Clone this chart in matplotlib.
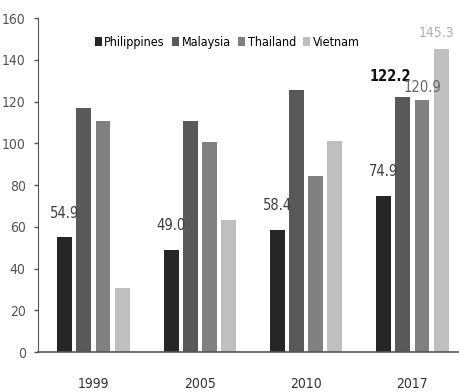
import matplotlib.pyplot as plt
import numpy as np

years = ["1999", "2005", "2010", "2017"]
countries = ["Philippines", "Malaysia", "Thailand", "Vietnam"]
philippines = [54.9, 49.0, 58.4, 74.9]
malaysia = [116.8, 110.6, 125.3, 122.2]
thailand = [110.6, 100.5, 84.3, 120.9]
vietnam = [30.7, 63.2, 101.3, 145.3]
colors = ["#262626", "#595959", "#808080", "#bfbfbf"]

plt.rcParams['font.family'] = ['DejaVu Sans']
plt.rcParams['font.stretch'] = 'condensed'

def main():
    fig = plt.figure(figsize=(4.6, 3.92), dpi=100)
    ax = fig.add_axes([0.083, 0.102, 0.913, 0.852])
    x = np.arange(len(years))
    step = 0.18
    width = 0.14
    series = [philippines, malaysia, thailand, vietnam]
    bars = []
    for i, (name, vals) in enumerate(zip(countries, series)):
        b = ax.bar(x + (i - 1.5) * step, vals, width, color=colors[i], label=name)
        bars.append(b)

    # value labels: all Philippines bars, plus the 2017 group
    for rect, v in zip(bars[0], philippines):
        ax.text(rect.get_x() + rect.get_width() / 2, v + 8, "%.1f" % v,
                ha="center", va="bottom", fontsize=10.5, color="#404040")
    r = bars[1][3]
    ax.text(r.get_x() + r.get_width() / 2 - 0.12, malaysia[3] + 6, "%.1f" % malaysia[3],
            ha="center", va="bottom", fontsize=10.5, color="#111111", fontweight="bold")
    r = bars[2][3]
    ax.text(r.get_x() + r.get_width() / 2, thailand[3] + 2, "%.1f" % thailand[3],
            ha="center", va="bottom", fontsize=10.5, color="#666666")
    r = bars[3][3]
    ax.text(r.get_x() + r.get_width() / 2 - 0.04, vietnam[3] + 4, "%.1f" % vietnam[3],
            ha="center", va="bottom", fontsize=10, color="#b0b0b0")

    ax.set_xlim(-0.52, 3.43)
    ax.set_ylim(0, 160)
    ax.set_yticks(range(0, 161, 20))
    ax.set_xticks(x)
    ax.set_xticklabels(years)
    ax.tick_params(axis="x", length=0, pad=18, labelsize=10, colors="#333333")
    ax.tick_params(axis="y", length=3, width=1, labelsize=10, colors="#555555", pad=6)
    ax.spines["top"].set_visible(False)
    ax.spines["right"].set_visible(False)
    ax.spines["left"].set_color("#555555")
    ax.spines["bottom"].set_color("#555555")
    ax.spines["bottom"].set_linewidth(1.2)

    ax.legend(loc="upper center", bbox_to_anchor=(0.45, 0.98), ncol=4, frameon=False,
              fontsize=9, handlelength=0.55, handleheight=0.8, handletextpad=0.2,
              columnspacing=0.6)
    fig.savefig("out.png", dpi=100)

if __name__ == "__main__":
    main()
